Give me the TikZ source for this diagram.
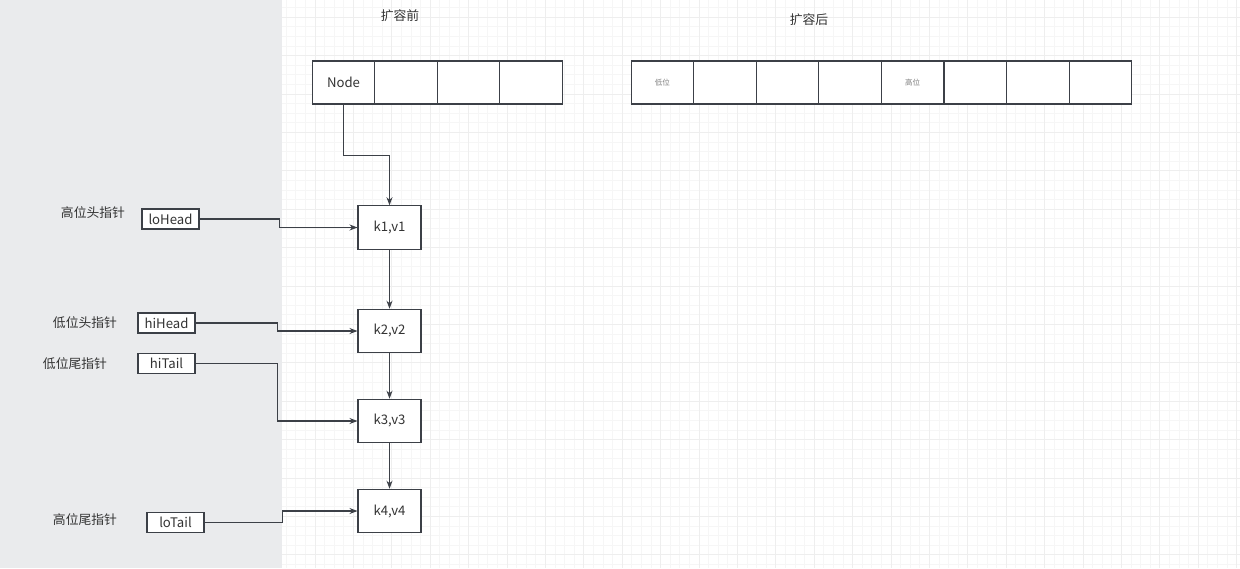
\documentclass[tikz,border=0pt]{standalone}
\usepackage{fontspec}
\setmainfont{Noto Sans CJK SC}
\usetikzlibrary{arrows.meta}
\definecolor{panel}{HTML}{EAEBED}
\definecolor{gridminor}{HTML}{F6F6F6}
\definecolor{gridmajor}{HTML}{EEEEEE}
\definecolor{ink}{HTML}{333333}
\definecolor{edge}{HTML}{3C4047}
\tikzset{
  txt/.style={text=ink, font=\fontsize{7.3}{8}\selectfont, inner sep=0pt},
  cell/.style={draw=edge, line width=0.6pt, fill=white, minimum width=1.25cm, minimum height=0.86cm, inner sep=0pt, text=ink, font=\fontsize{7.5}{8}\selectfont},
  kv/.style={draw=edge, line width=0.6pt, fill=white, minimum width=1.26cm, minimum height=0.87cm, inner sep=0pt, text=ink, font=\fontsize{7.5}{8}\selectfont},
  ptr/.style={draw=edge, line width=0.6pt, fill=white, minimum width=1.14cm, minimum height=0.4cm, inner sep=0pt, text=ink, font=\fontsize{7.5}{8}\selectfont},
  small/.style={text=gray, font=\fontsize{4.3}{5}\selectfont},
  link/.style={draw=edge, line width=0.6pt, -{Stealth[length=0.16cm,width=0.12cm]}},
}
\begin{document}
\begin{tikzpicture}[x=0.02cm,y=-0.02cm]
\useasboundingbox (0,0) rectangle (1240,568);
\fill[white] (0,0) rectangle (1240,568);
\fill[panel] (0,0) rectangle (282,568);
% grid
\foreach \k in {0,...,99}{
  \draw[gridminor, line width=0.4pt] ({286.1+9.6*\k},0) -- ({286.1+9.6*\k},568);
}
\foreach \k in {0,...,58}{
  \draw[gridminor, line width=0.4pt] (282,{7.5+9.6*\k}) -- (1240,{7.5+9.6*\k});
}
\foreach \k in {0,...,24}{
  \draw[gridmajor, line width=0.4pt] ({314.9+38.4*\k},0) -- ({314.9+38.4*\k},568);
}
\foreach \k in {0,...,14}{
  \draw[gridmajor, line width=0.4pt] (282,{17.1+38.4*\k}) -- (1240,{17.1+38.4*\k});
}
% titles
\node[txt] (tBefore) at (400,16) {扩容前};
\node[txt] (tAfter) at (809,20) {扩容后};
% before array
\node[cell] (a1) at (343.5,82.5) {Node};
\node[cell] (a2) at (406,82.5) {};
\node[cell] (a3) at (468.5,82.5) {};
\node[cell] (a4) at (531,82.5) {};
% after array
\node[cell, small] (b1) at (662.3,82.5) {低位};
\node[cell] (b2) at (724.9,82.5) {};
\node[cell] (b3) at (787.5,82.5) {};
\node[cell] (b4) at (850.1,82.5) {};
\node[cell, small] (b5) at (912.7,82.5) {高位};
\node[cell] (b6) at (975.3,82.5) {};
\node[cell] (b7) at (1037.9,82.5) {};
\node[cell] (b8) at (1100.5,82.5) {};
% chain
\node[kv] (k1) at (389.5,227.5) {k1,v1};
\node[kv] (k2) at (389.5,331) {k2,v2};
\node[kv] (k3) at (389.5,421) {k3,v3};
\node[kv] (k4) at (389.5,511) {k4,v4};
% pointers
\node[ptr] (loHead) at (170.5,219) {loHead};
\node[ptr] (hiHead) at (166.5,323) {hiHead};
\node[ptr] (hiTail) at (166.5,363.5) {hiTail};
\node[ptr] (loTail) at (175.5,522.5) {loTail};
% labels
\node[txt] (lab1) at (93,213) {高位头指针};
\node[txt] (lab2) at (85,323) {低位头指针};
\node[txt] (lab3) at (75,364) {低位尾指针};
\node[txt] (lab4) at (85,520) {高位尾指针};
% connectors
\draw[link] (a1.south) -- ++(0,51) -| (k1.north);
\draw[link] (k1.south) -- (k2.north);
\draw[link] (k2.south) -- (k3.north);
\draw[link] (k3.south) -- (k4.north);
\draw[link] (loHead.east) -- ++(80,0) |- (k1.west);
\draw[link] (hiHead.east) -- ++(82,0) |- (k2.west);
\draw[link] (hiTail.east) -- ++(82,0) |- (k3.west);
\draw[link] (loTail.east) -- ++(78,0) |- (k4.west);
\end{tikzpicture}
\end{document}
